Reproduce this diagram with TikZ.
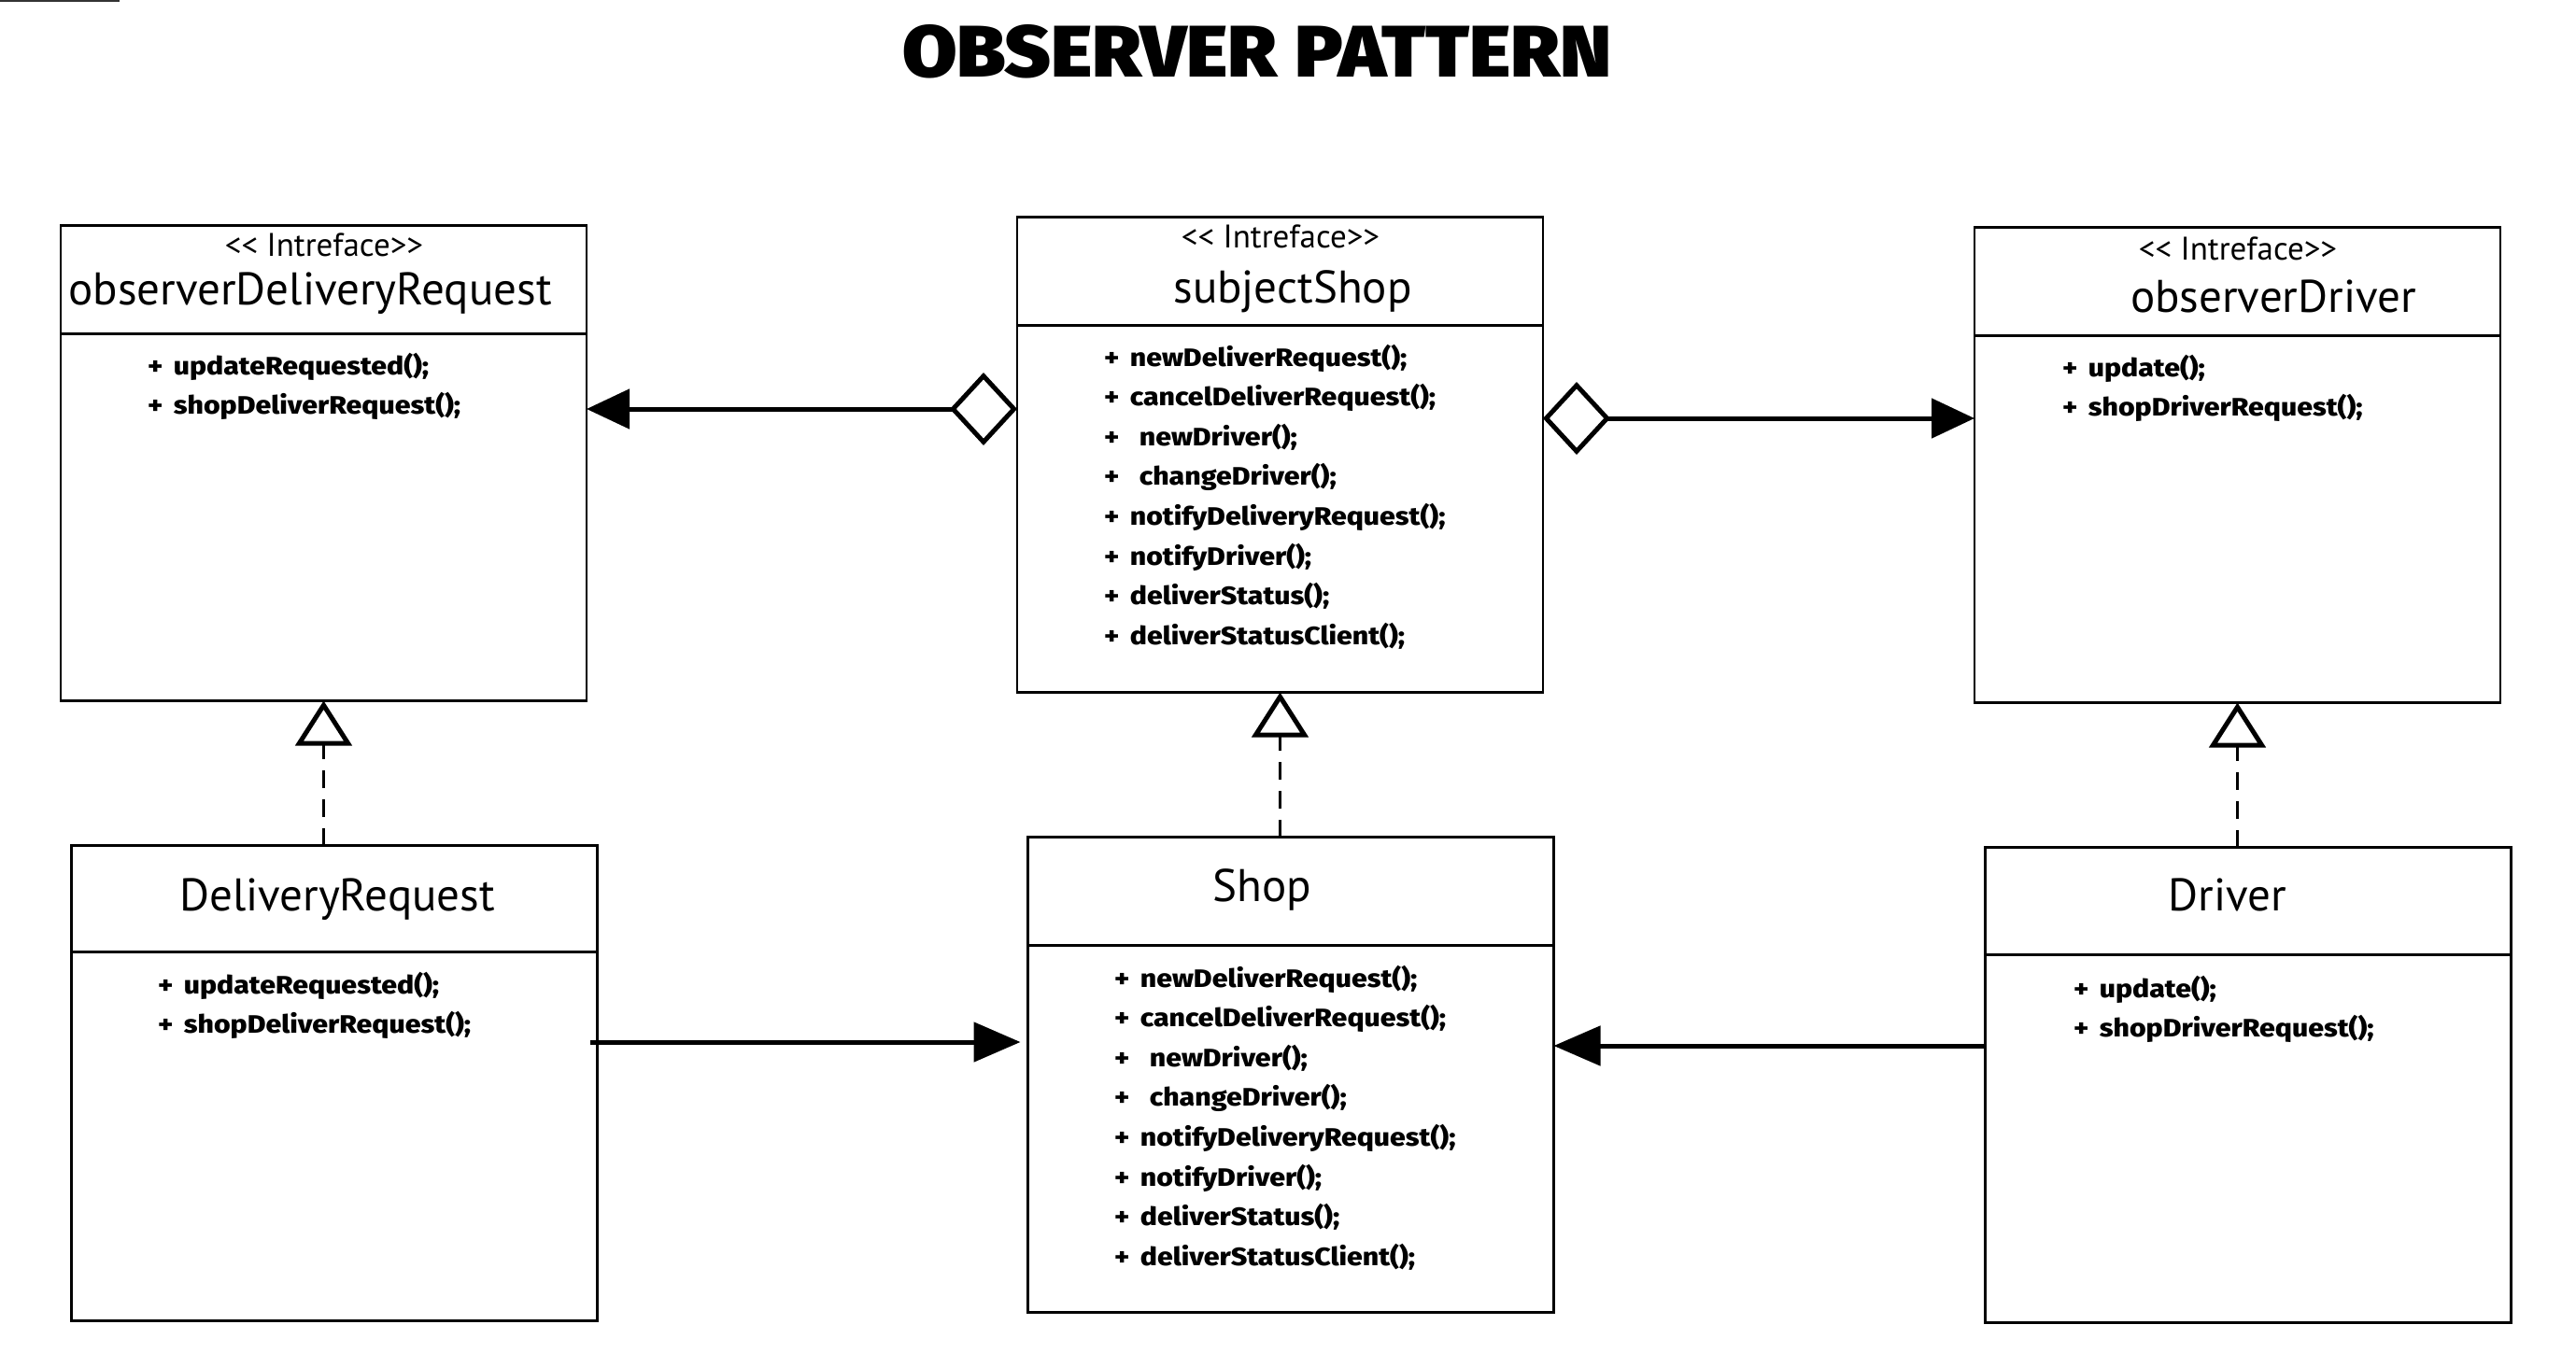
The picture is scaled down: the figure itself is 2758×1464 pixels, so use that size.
\documentclass[tikz,border=0pt]{standalone}
\usepackage{fontspec}
\setmainfont{PT Sans}
\newfontfamily\methfont{Fira Sans ExtraBold}[FakeStretch=1.12]
\newfontfamily\titlefont{Fira Sans Black}
\usetikzlibrary{arrows.meta}
\newcommand{\pl}{+\hspace{0.42em}}
\newcommand{\stereotxt}{<{}< Intreface>{}>}
\tikzset{
  umlbox/.style={draw, line width=2.6pt, inner sep=0pt, outer sep=0pt, minimum width=563pt, minimum height=509pt},
  divider/.style={line width=2.6pt},
  stereo/.style={font=\fontsize{35}{38}\selectfont, anchor=base, inner sep=0pt},
  clsname/.style={font=\fontsize{49}{52}\selectfont, anchor=base, inner sep=0pt},
  meth/.style={font=\methfont\fontsize{27}{30}\selectfont, anchor=base west, inner sep=0pt},
  assoc/.style={line width=5pt, {Diamond[open,length=72pt,width=78pt]}-{Triangle[length=46pt,width=42pt]}},
  depend/.style={line width=5pt, -{Triangle[length=50pt,width=42pt]}},
  realize/.style={line width=2.5pt, dash pattern=on 19pt off 12pt, -{Triangle[open,length=48pt,width=60pt,line width=5pt]}}
}
\begin{document}
\begin{tikzpicture}[x=1pt,y=-1pt]
\useasboundingbox (0,0) rectangle (2758,1464);
\fill[white] (0,0) rectangle (2758,1464);
\fill[black!80] (0,0) rectangle (128,2.5);

% title
\node[anchor=north west, inner sep=0pt] (title) at (966,26) {\resizebox{759pt}{56pt}{\titlefont OBSERVER PATTERN}};

% boxes
\node[umlbox] (odr) at (346.5,496) {};
\node[umlbox] (ss) at (1370.5,487) {};
\node[umlbox] (od) at (2395.5,498) {};
\node[umlbox] (dr) at (358,1160) {};
\node[umlbox] (shop) at (1382,1151) {};
\node[umlbox] (drv) at (2407,1162) {};

% dividers
\draw[divider] ([yshift=-116pt]odr.north west) -- ([yshift=-116pt]odr.north east);
\draw[divider] ([yshift=-116pt]ss.north west) -- ([yshift=-116pt]ss.north east);
\draw[divider] ([yshift=-116pt]od.north west) -- ([yshift=-116pt]od.north east);
\draw[divider] ([yshift=-114pt]dr.north west) -- ([yshift=-114pt]dr.north east);
\draw[divider] ([yshift=-116pt]shop.north west) -- ([yshift=-116pt]shop.north east);
\draw[divider] ([yshift=-115pt]drv.north west) -- ([yshift=-115pt]drv.north east);

% headers
\node[stereo] (odr-st) at (347,274) {\stereotxt};
\node[clsname] (odr-nm) at (332,326) {observerDeliveryRequest};
\node[stereo] (ss-st) at (1371,265) {\stereotxt};
\node[clsname] (ss-nm) at (1384,324) {subjectShop};
\node[stereo] (od-st) at (2396,278) {\stereotxt};
\node[clsname] (od-nm) at (2434,334) {observerDriver};
\node[clsname] (dr-nm) at (361,975) {DeliveryRequest};
\node[clsname] (shop-nm) at (1351,965) {Shop};
\node[clsname] (drv-nm) at (2385,975) {Driver};

% methods
\foreach \t [count=\i] in {{\pl updateRequested();},{\pl shopDeliverRequest();}}
  \node[meth] (odr-m\i) at (158,{401+42.6*(\i-1)}) {\t};
\foreach \t [count=\i] in {{\pl updateRequested();},{\pl shopDeliverRequest();}}
  \node[meth] (dr-m\i) at (169,{1064+42.6*(\i-1)}) {\t};
\foreach \t [count=\i] in {{\pl update();},{\pl shopDriverRequest();}}
  \node[meth] (od-m\i) at (2208,{403+42.6*(\i-1)}) {\t};
\foreach \t [count=\i] in {{\pl update();},{\pl shopDriverRequest();}}
  \node[meth] (drv-m\i) at (2220,{1068+42.6*(\i-1)}) {\t};
\foreach \t [count=\i] in {{\pl newDeliverRequest();},{\pl cancelDeliverRequest();},{\pl\hspace{10pt}newDriver();},{\pl\hspace{10pt}changeDriver();},{\pl notifyDeliveryRequest();},{\pl notifyDriver();},{\pl deliverStatus();},{\pl deliverStatusClient();}}
  \node[meth] (ss-m\i) at (1182,{392+42.6*(\i-1)}) {\t};
\foreach \t [count=\i] in {{\pl newDeliverRequest();},{\pl cancelDeliverRequest();},{\pl\hspace{10pt}newDriver();},{\pl\hspace{10pt}changeDriver();},{\pl notifyDeliveryRequest();},{\pl notifyDriver();},{\pl deliverStatus();},{\pl deliverStatusClient();}}
  \node[meth] (shop-m\i) at (1193,{1057+42.6*(\i-1)}) {\t};

% connector levels
\coordinate (yA) at (0,438);
\coordinate (yB) at (0,448);
\coordinate (yC) at (0,1116);
\coordinate (yD) at (0,1120);

% associations
\draw[assoc] (ss.west |- yA) -- (odr.east |- yA);
\draw[assoc] (ss.east |- yB) -- (od.west |- yB);
\draw[depend, shorten >=8pt, shorten <=-8pt] (dr.east |- yC) -- (shop.west |- yC);
\draw[depend] (drv.west |- yD) -- (shop.east |- yD);

% realizations
\draw[realize] (odr.south |- dr.north) -- (odr.south);
\draw[realize] (ss.south |- shop.north) -- (ss.south);
\draw[realize] (od.south |- drv.north) -- (od.south);
\end{tikzpicture}
\end{document}
